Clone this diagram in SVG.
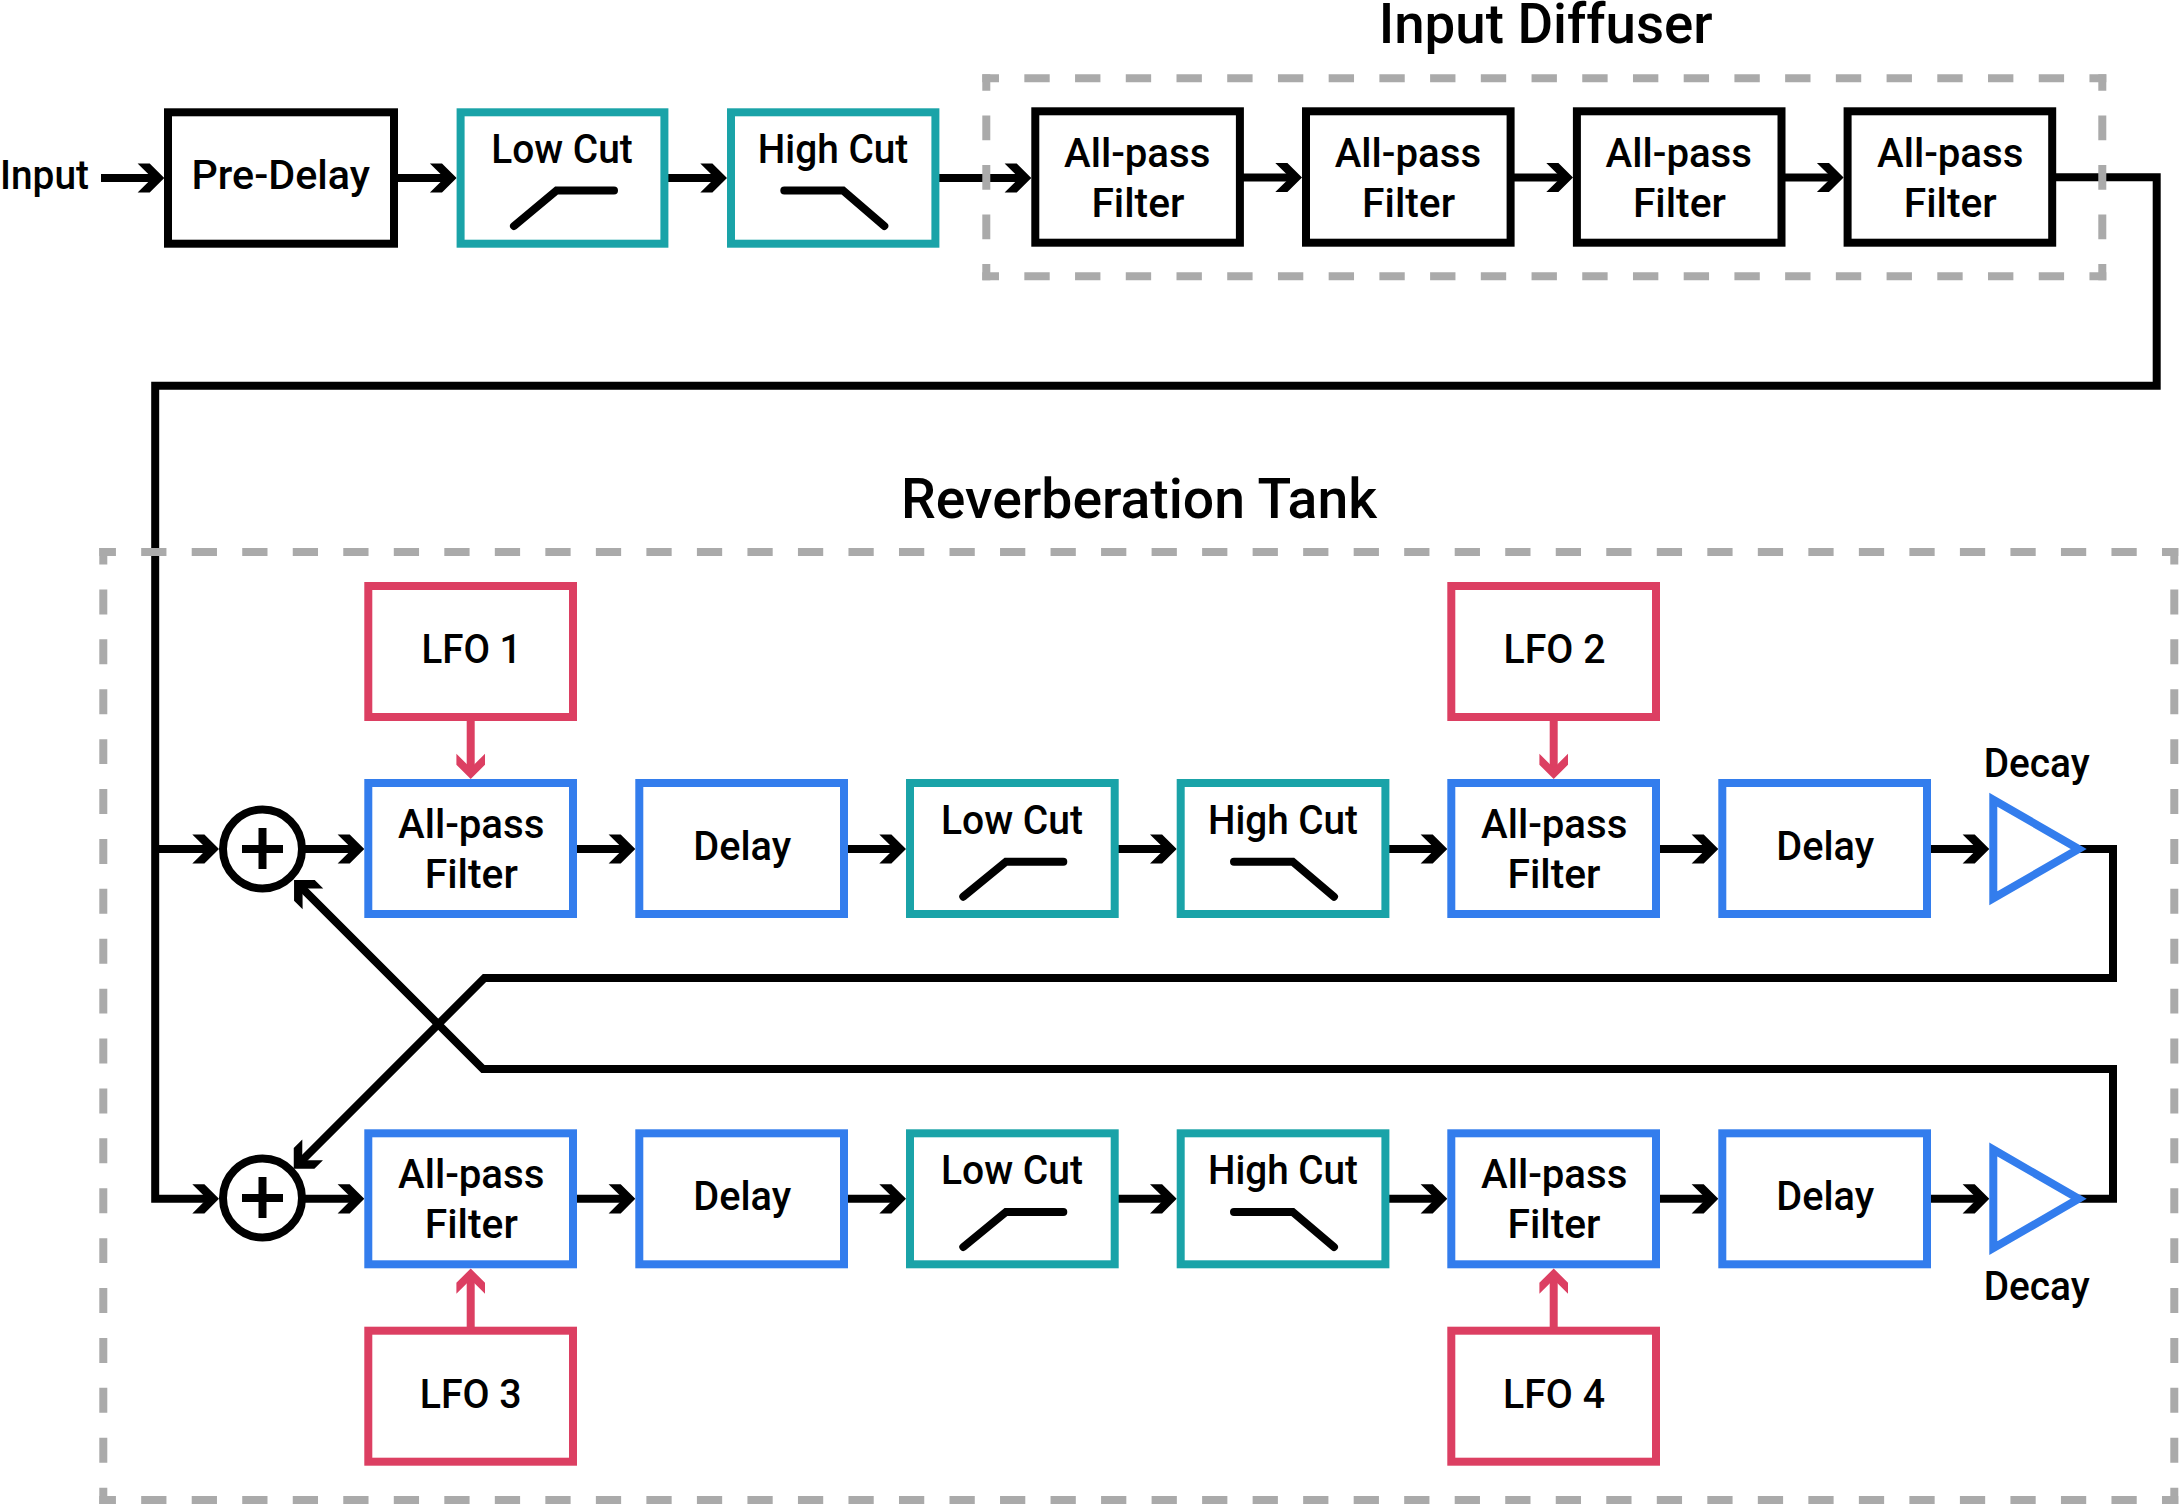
<svg xmlns="http://www.w3.org/2000/svg" width="2179" height="1508" viewBox="0 0 2179 1508">
<style>
text{font-family:"Roboto","Liberation Sans",sans-serif;font-size:41px;font-weight:500;fill:#000}
.title{font-size:56px}
.box{fill:#fff;stroke-width:8}
.k{stroke:#000}.t{stroke:#1aa3a8}.b{stroke:#337ded}.r{stroke:#dc3f62}
.line{fill:none;stroke:#000;stroke-width:8}
.arrow{marker-end:url(#ah)}
.rline{fill:none;stroke:#dc3f62;stroke-width:8;marker-end:url(#rh)}
.icon{fill:none;stroke:#000;stroke-width:8;stroke-linecap:round}
.fr{fill:none;stroke:#aaa;stroke-width:8}
</style>
<defs>
<marker id="ah" markerUnits="userSpaceOnUse" viewBox="-30 -16 38 32" refX="0" refY="0" markerWidth="38" markerHeight="32" orient="auto"><polygon fill="#000" points="-20.7,-14.6 -8.6,-14.6 6,0 -8.6,14.6 -20.7,14.6 -6,0"/></marker>
<marker id="rh" markerUnits="userSpaceOnUse" viewBox="-30 -16 38 32" refX="0" refY="0" markerWidth="38" markerHeight="32" orient="auto"><polygon fill="#dc3f62" points="-19.3,-14.3 -8.3,-14.3 6,0 -8.3,14.3 -19.3,14.3 -5,0"/></marker>
</defs>
<g id="connectors">
<line class="line arrow" x1="101" y1="178" x2="158.3" y2="178"/>
<line class="line arrow" x1="398" y1="178" x2="450.6" y2="178"/>
<line class="line arrow" x1="668" y1="178" x2="721" y2="178"/>
<line class="line arrow" x1="939" y1="178" x2="1025.3" y2="178"/>
<line class="line arrow" x1="1243" y1="177.5" x2="1296" y2="177.5"/>
<line class="line arrow" x1="1514" y1="177.5" x2="1567" y2="177.5"/>
<line class="line arrow" x1="1785" y1="177.5" x2="1837.6" y2="177.5"/>
<polyline class="line" points="2056,177.3 2156.7,177.3 2156.7,385.7 155.2,385.7 155.2,1198.8 213,1198.8" marker-end="url(#ah)"/>
<line class="line arrow" x1="155.2" y1="849" x2="213" y2="849"/>
<line class="line arrow" x1="305" y1="849" x2="358.3" y2="849"/>
<line class="line arrow" x1="577" y1="849" x2="629.3" y2="849"/>
<line class="line arrow" x1="848" y1="849" x2="900" y2="849"/>
<line class="line arrow" x1="1118" y1="849" x2="1170.7" y2="849"/>
<line class="line arrow" x1="1389" y1="849" x2="1441.3" y2="849"/>
<line class="line arrow" x1="1660" y1="849" x2="1712.3" y2="849"/>
<line class="line arrow" x1="1931" y1="849" x2="1983.3" y2="849"/>
<line class="line arrow" x1="305" y1="1198.8" x2="358.3" y2="1198.8"/>
<line class="line arrow" x1="577" y1="1198.8" x2="629.3" y2="1198.8"/>
<line class="line arrow" x1="848" y1="1198.8" x2="900" y2="1198.8"/>
<line class="line arrow" x1="1118" y1="1198.8" x2="1170.7" y2="1198.8"/>
<line class="line arrow" x1="1389" y1="1198.8" x2="1441.3" y2="1198.8"/>
<line class="line arrow" x1="1660" y1="1198.8" x2="1712.3" y2="1198.8"/>
<line class="line arrow" x1="1931" y1="1198.8" x2="1983.3" y2="1198.8"/>
<polyline class="line arrow" points="2070,849 2113,849 2113,978 484.5,978 298,1164.5"/>
<polyline class="line arrow" points="2070,1198.8 2113,1198.8 2113,1069 483,1069 298.3,884.3"/>
<line class="rline" x1="470.7" y1="721" x2="470.7" y2="773"/>
<line class="rline" x1="1553.7" y1="721" x2="1553.7" y2="773"/>
<line class="rline" x1="470.7" y1="1327" x2="470.7" y2="1274.5"/>
<line class="rline" x1="1553.7" y1="1327" x2="1553.7" y2="1274.5"/>
</g>
<g id="input-label"><text x="0" y="189" textLength="89" lengthAdjust="spacingAndGlyphs">Input</text></g>
<g id="pre-delay"><rect class="box k" x="168" y="112.3" width="226" height="131.4"/><text x="191.5" y="189" textLength="178.5" lengthAdjust="spacingAndGlyphs">Pre-Delay</text></g>
<g id="low-cut-in"><rect class="box t" x="460.6" y="112.3" width="203.8" height="131.4"/><text x="491.3" y="163.3" textLength="141.5" lengthAdjust="spacingAndGlyphs">Low Cut</text><polyline class="icon" points="514,226 556.6,190.5 614,190.5"/></g>
<g id="high-cut-in"><rect class="box t" x="731" y="112.3" width="204.4" height="131.4"/><text x="757.8" y="163.3" textLength="150.5" lengthAdjust="spacingAndGlyphs">High Cut</text><polyline class="icon" points="784.3,190.5 843,190.5 884.3,226"/></g>
<g id="apf-in-1"><rect class="box k" x="1035.3" y="111.3" width="204.6" height="131.4"/><text x="1064" y="166.7" textLength="146.4" lengthAdjust="spacingAndGlyphs">All-pass</text><text x="1091.4" y="216.7" textLength="93" lengthAdjust="spacingAndGlyphs">Filter</text></g>
<g id="apf-in-2"><rect class="box k" x="1306" y="111.3" width="204.6" height="131.4"/><text x="1334.7" y="166.7" textLength="146.4" lengthAdjust="spacingAndGlyphs">All-pass</text><text x="1362.1" y="216.7" textLength="93" lengthAdjust="spacingAndGlyphs">Filter</text></g>
<g id="apf-in-3"><rect class="box k" x="1576.9" y="111.3" width="204.6" height="131.4"/><text x="1605.6" y="166.7" textLength="146.4" lengthAdjust="spacingAndGlyphs">All-pass</text><text x="1632.9" y="216.7" textLength="93" lengthAdjust="spacingAndGlyphs">Filter</text></g>
<g id="apf-in-4"><rect class="box k" x="1847.6" y="111.3" width="204.6" height="131.4"/><text x="1877" y="166.7" textLength="146.4" lengthAdjust="spacingAndGlyphs">All-pass</text><text x="1903.7" y="216.7" textLength="93" lengthAdjust="spacingAndGlyphs">Filter</text></g>
<g id="lfo1"><rect class="box r" x="368.3" y="586" width="204.7" height="131"/><text x="421.5" y="663.3" textLength="100" lengthAdjust="spacingAndGlyphs">LFO 1</text></g>
<g id="lfo2"><rect class="box r" x="1451.3" y="586" width="204.7" height="131"/><text x="1503.5" y="663.3" textLength="102" lengthAdjust="spacingAndGlyphs">LFO 2</text></g>
<g id="lfo3"><rect class="box r" x="368.3" y="1330.7" width="204.7" height="131"/><text x="419.7" y="1408.3" textLength="102" lengthAdjust="spacingAndGlyphs">LFO 3</text></g>
<g id="lfo4"><rect class="box r" x="1451.3" y="1330.7" width="204.7" height="131"/><text x="1503" y="1408.3" textLength="102" lengthAdjust="spacingAndGlyphs">LFO 4</text></g>
<g id="sum1"><circle class="box k" cx="262.5" cy="849" r="39.5"/><line class="line" x1="242" y1="849" x2="283" y2="849"/><line class="line" x1="262.5" y1="828" x2="262.5" y2="869"/></g>
<g id="sum2"><circle class="box k" cx="262.5" cy="1198" r="39.5"/><line class="line" x1="242" y1="1198" x2="283" y2="1198"/><line class="line" x1="262.5" y1="1177" x2="262.5" y2="1218"/></g>
<g id="apf1"><rect class="box b" x="368.3" y="783" width="204.7" height="131"/><text x="398" y="837.7" textLength="146.4" lengthAdjust="spacingAndGlyphs">All-pass</text><text x="424.8" y="888" textLength="93" lengthAdjust="spacingAndGlyphs">Filter</text></g>
<g id="delay1"><rect class="box b" x="639.3" y="783" width="204.7" height="131"/><text x="693.3" y="860.3" textLength="97.9" lengthAdjust="spacingAndGlyphs">Delay</text></g>
<g id="low1"><rect class="box t" x="910" y="783" width="204.7" height="131"/><text x="941" y="834" textLength="142" lengthAdjust="spacingAndGlyphs">Low Cut</text><polyline class="icon" points="963.3,896.7 1006,861.7 1063.3,861.7"/></g>
<g id="high1"><rect class="box t" x="1180.7" y="783" width="204.7" height="131"/><text x="1208" y="834" textLength="150" lengthAdjust="spacingAndGlyphs">High Cut</text><polyline class="icon" points="1234,861.7 1292.7,861.7 1334,896.7"/></g>
<g id="apf2"><rect class="box b" x="1451.3" y="783" width="204.7" height="131"/><text x="1481" y="837.7" textLength="146.4" lengthAdjust="spacingAndGlyphs">All-pass</text><text x="1507.5" y="888" textLength="93" lengthAdjust="spacingAndGlyphs">Filter</text></g>
<g id="delay2"><rect class="box b" x="1722.3" y="783" width="204.7" height="131"/><text x="1776.3" y="860.3" textLength="97.9" lengthAdjust="spacingAndGlyphs">Delay</text></g>
<g id="decay1"><polygon class="box b" points="1993.3,799.7 2078.7,849 1993.3,898.3"/><text x="1983.7" y="777.3" textLength="106" lengthAdjust="spacingAndGlyphs">Decay</text></g>
<g id="apf3"><rect class="box b" x="368.3" y="1133.3" width="204.7" height="131"/><text x="398" y="1188" textLength="146.4" lengthAdjust="spacingAndGlyphs">All-pass</text><text x="424.8" y="1238.3" textLength="93" lengthAdjust="spacingAndGlyphs">Filter</text></g>
<g id="delay3"><rect class="box b" x="639.3" y="1133.3" width="204.7" height="131"/><text x="693.3" y="1210" textLength="97.9" lengthAdjust="spacingAndGlyphs">Delay</text></g>
<g id="low2"><rect class="box t" x="910" y="1133.3" width="204.7" height="131"/><text x="941" y="1184" textLength="142" lengthAdjust="spacingAndGlyphs">Low Cut</text><polyline class="icon" points="963.3,1247 1006,1212 1063.3,1212"/></g>
<g id="high2"><rect class="box t" x="1180.7" y="1133.3" width="204.7" height="131"/><text x="1208" y="1184" textLength="150" lengthAdjust="spacingAndGlyphs">High Cut</text><polyline class="icon" points="1234,1212 1292.7,1212 1334,1247"/></g>
<g id="apf4"><rect class="box b" x="1451.3" y="1133.3" width="204.7" height="131"/><text x="1481" y="1188" textLength="146.4" lengthAdjust="spacingAndGlyphs">All-pass</text><text x="1507.5" y="1238.3" textLength="93" lengthAdjust="spacingAndGlyphs">Filter</text></g>
<g id="delay4"><rect class="box b" x="1722.3" y="1133.3" width="204.7" height="131"/><text x="1776.3" y="1210" textLength="97.9" lengthAdjust="spacingAndGlyphs">Delay</text></g>
<g id="decay2"><polygon class="box b" points="1993.3,1149.5 2078.7,1198.8 1993.3,1248.1"/><text x="1983.7" y="1300" textLength="106" lengthAdjust="spacingAndGlyphs">Decay</text></g>
<g id="input-diffuser">
<text class="title" x="1378.7" y="42.7" textLength="334" lengthAdjust="spacingAndGlyphs">Input Diffuser</text>
<line class="fr" x1="982.3" y1="78.3" x2="2106.3" y2="78.3" stroke-dasharray="25.36 25.36" stroke-dashoffset="8.68"/>
<line class="fr" x1="982.3" y1="276.3" x2="2106.3" y2="276.3" stroke-dasharray="25.36 25.36" stroke-dashoffset="8.68"/>
<line class="fr" x1="986.3" y1="74.3" x2="986.3" y2="280.3" stroke-dasharray="24.75 24.75" stroke-dashoffset="8.38"/>
<line class="fr" x1="2102.3" y1="74.3" x2="2102.3" y2="280.3" stroke-dasharray="24.75 24.75" stroke-dashoffset="8.38"/>
</g>
<g id="reverberation-tank">
<text class="title" x="901" y="518.3" textLength="476" lengthAdjust="spacingAndGlyphs">Reverberation Tank</text>
<line class="fr" x1="99.3" y1="552" x2="2178.3" y2="552" stroke-dasharray="25.26 25.26" stroke-dashoffset="8.63"/>
<line class="fr" x1="99.3" y1="1500" x2="2178.3" y2="1500" stroke-dasharray="25.26 25.26" stroke-dashoffset="8.63"/>
<line class="fr" x1="103.3" y1="548" x2="103.3" y2="1504" stroke-dasharray="24.95 24.95" stroke-dashoffset="8.47"/>
<line class="fr" x1="2174.3" y1="548" x2="2174.3" y2="1504" stroke-dasharray="24.95 24.95" stroke-dashoffset="8.47"/>
</g>
</svg>
